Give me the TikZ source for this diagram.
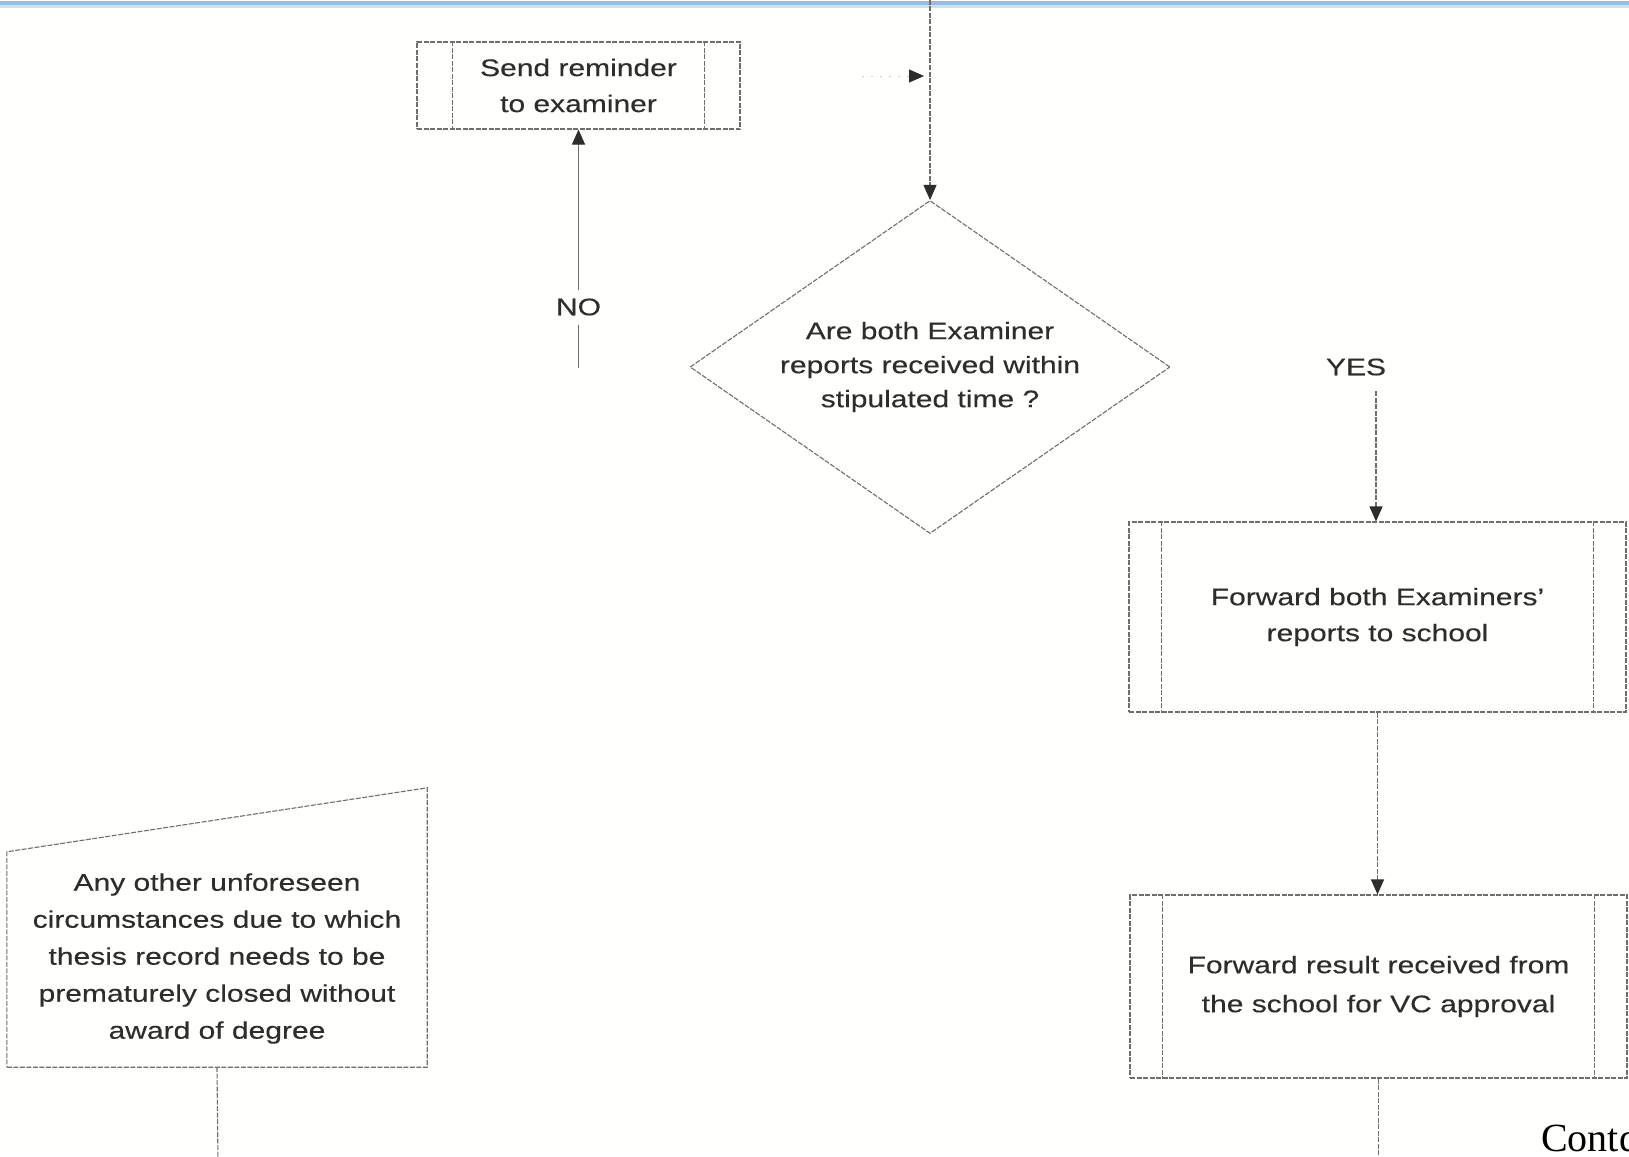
\documentclass[tikz,border=0pt]{standalone}
\usepackage{fontspec}
\setmainfont{Liberation Sans}
\newfontfamily\flowfont{Liberation Sans}[FakeStretch=1.25,FakeBold=0.25]
\newfontfamily\notefont{Liberation Serif}
\usetikzlibrary{shapes.geometric,arrows.meta,calc}
\definecolor{ink}{RGB}{45,45,45}
\definecolor{rule}{RGB}{110,110,110}
\definecolor{paper}{RGB}{255,255,251}
\definecolor{band}{RGB}{150,188,224}
\definecolor{bandlight}{RGB}{205,224,242}

\begin{document}
\begin{tikzpicture}[x=1pt,y=-1pt,
  edge/.style={draw=rule, line width=1.1pt, dash pattern=on 5pt off 1.5pt},
  tipend/.style={-{Triangle[length=15pt,width=13pt,color=ink]}},
  flow/.style={edge, tipend},
  txt/.style={text=ink, font=\flowfont\fontsize{24}{36}\selectfont, align=center},
  tag/.style={text=ink, font=\flowfont\fontsize{24}{28}\selectfont},
  procbox/.style={edge, txt, rectangle, inner sep=0pt},
  decision/.style={edge, txt, diamond, aspect=1.44, inner sep=0pt,
    font=\flowfont\fontsize{24}{34}\selectfont}
]
% page and top rule
\fill[paper] (0,0) rectangle (1629,1156);
\useasboundingbox (0,0) rectangle (1629,1156);
\clip (0,0) rectangle (1629,1156);
\fill[band] (0,1) rectangle (1629,5.5);
\fill[bandlight] (0,5.5) rectangle (1629,8);

% process boxes
\node[procbox, minimum width=323pt, minimum height=87pt] (remind) at (578.5,85.5)
  {Send reminder\\to examiner};
\node[decision, minimum width=480pt, minimum height=333pt] (ask) at (930,367)
  {Are both Examiner\\reports received within\\stipulated time ?};
\node[procbox, minimum width=497pt, minimum height=190pt] (fwdA) at (1377.5,617)
  {Forward both Examiners’\\reports to school};
\node[procbox, minimum width=497pt, minimum height=183pt,
  font=\flowfont\fontsize{24}{39}\selectfont] (fwdB) at (1378.5,986.5)
  {Forward result received from\\the school for VC approval};

% side bars of the predefined-process boxes
\foreach \n/\d in {remind/36, fwdA/33, fwdB/33} {
  \draw[edge] ($(\n.north west)+(\d,0)$) -- ($(\n.south west)+(\d,0)$);
  \draw[edge] ($(\n.north east)+(-\d,0)$) -- ($(\n.south east)+(-\d,0)$);
}

% manual-input box
\node[minimum width=420pt, minimum height=279pt, inner sep=0pt] (other) at (217,927.5) {};
\draw[edge] (other.south west) -- (other.south east) -- (other.north east)
  -- ($(other.north west)+(0,64)$) -- cycle;
\node[txt, font=\flowfont\fontsize{24}{37}\selectfont] (othertext) at ($(other.center)+(0,31)$)
  {Any other unforeseen\\circumstances due to which\\thesis record needs to be\\prematurely closed without\\award of degree};

% connectors
\coordinate (entry) at (930,0);
\draw[flow] (entry) -- (ask.north);

\coordinate (sidefrom) at (862,76);
\coordinate (sideto) at (924,76);
\draw[draw=black!20, line width=0.8pt, dash pattern=on 2pt off 7pt, tipend] (sidefrom) -- (sideto);

\coordinate (nofoot) at (578.5,368);
\draw[draw=rule, line width=1.1pt, tipend] (nofoot) -- (remind.south);
\node[tag, fill=paper, inner xsep=4pt, inner ysep=9pt] (no) at (578.5,307) {NO};

\node[tag] (yes) at (1356,367) {YES};
\coordinate (yesfoot) at (1376,391);
\draw[flow] (yesfoot) -- (yesfoot |- fwdA.north);

\draw[flow] (fwdA.south) -- (fwdA.south |- fwdB.north);

\coordinate (outB) at (1378.5,1162);
\draw[edge] (fwdB.south) -- (outB);
\coordinate (outO) at (218,1162);
\draw[edge] (other.south) -- (outO);

% continuation note, running off the right edge
\node[anchor=base west, inner sep=0pt, text=black,
  font=\notefont\fontsize{40}{48}\selectfont] (contd) at (1541,1151) {Contd};
\end{tikzpicture}
\end{document}
